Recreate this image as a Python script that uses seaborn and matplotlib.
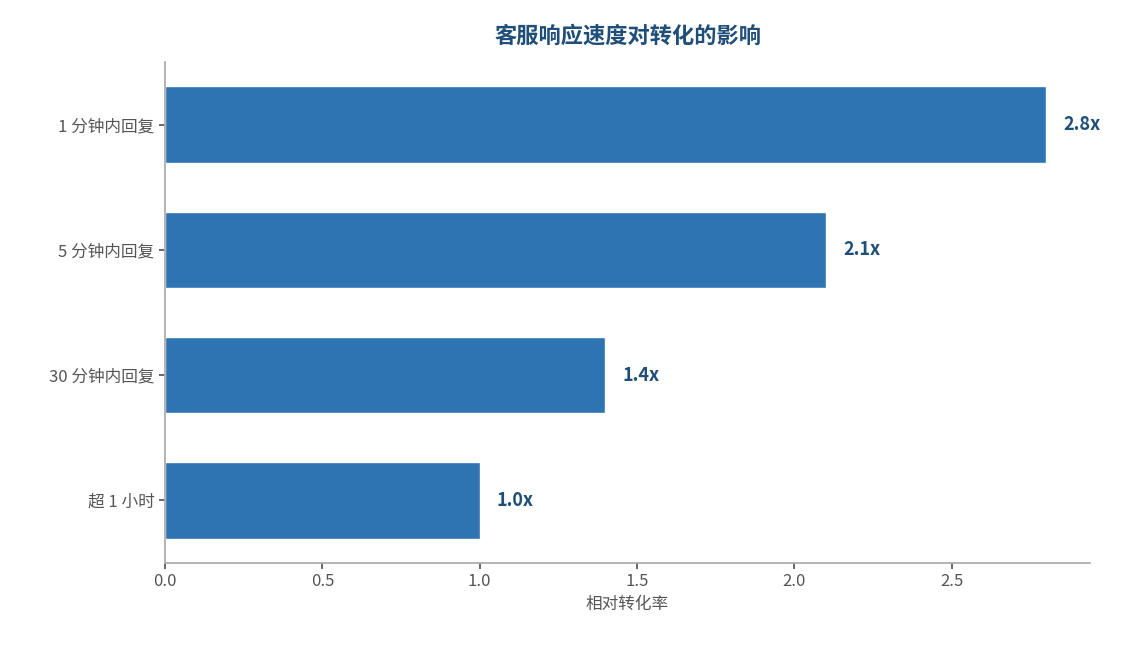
import matplotlib
matplotlib.use("Agg")
import matplotlib.pyplot as plt
import seaborn as sns
import pandas as pd

categories = ["1 分钟内回复", "5 分钟内回复", "30 分钟内回复", "超 1 小时"]
values = [2.8, 2.1, 1.4, 1.0]
labels = ["2.8x", "2.1x", "1.4x", "1.0x"]

sns.set_theme(style="white")
plt.rcParams['font.family'] = ['Noto Sans CJK SC', 'DejaVu Sans']

df = pd.DataFrame({"cat": categories, "val": values})
fig = plt.figure(figsize=(11.23, 6.45), dpi=100)
ax = fig.add_axes([165/1123, 1-563/645, (1090-165)/1123, (563-62)/645])
sns.barplot(data=df, x="val", y="cat", color="#2e73b2", saturation=1, width=0.61, ax=ax)
for i, (v, t) in enumerate(zip(values, labels)):
    ax.text(v + 0.055, i, t, va="center", ha="left", fontsize=13, fontweight="bold", color="#1f4e79")
ax.set_xlim(0, 2.94)
ax.set_ylim(3.5, -0.5)
ax.set_xticks([0, 0.5, 1.0, 1.5, 2.0, 2.5])
ax.set_xticklabels(["0.0", "0.5", "1.0", "1.5", "2.0", "2.5"])
ax.set_xlabel("相对转化率", fontsize=12, color="#555555")
ax.set_ylabel("")
ax.tick_params(axis="both", labelsize=12, colors="#555555", length=4, left=True, bottom=True)
for s in ["top", "right"]:
    ax.spines[s].set_visible(False)
for s in ["left", "bottom"]:
    ax.spines[s].set_color("#aaaaaa")
ax.set_title("客服响应速度对转化的影响", fontsize=16, fontweight="bold", color="#1f4e79", pad=14)
fig.savefig("out.png", dpi=100)
